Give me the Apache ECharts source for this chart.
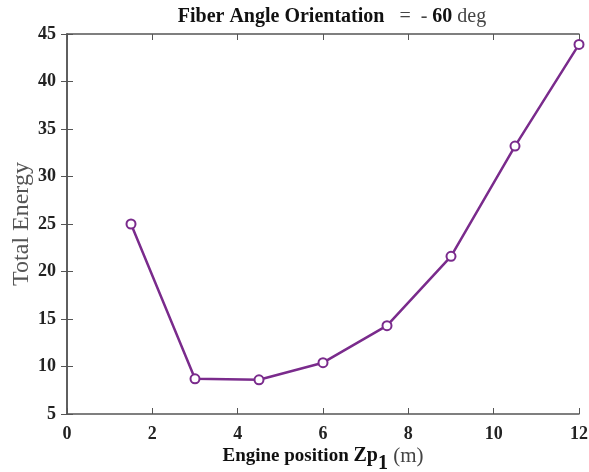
<!DOCTYPE html>
<html>
<head>
<meta charset="utf-8">
<script src="https://cdn.jsdelivr.net/npm/echarts@6/dist/echarts.min.js"></script>
<style>
  html, body { margin: 0; padding: 0; background: #fff; }
  #chart { width: 589px; height: 472px; }
</style>
</head>
<body>
<div id="chart"></div>
<script>
// data
const positions = [1.5, 3, 4.5, 6, 7.5, 9, 10.5, 12]
const energy = [25.0, 8.7, 8.6, 10.4, 14.3, 21.6, 33.2, 43.9]
const xTicks = [0, 2, 4, 6, 8, 10, 12]
const yTicks = [5, 10, 15, 20, 25, 30, 35, 40, 45]

const purple = '#7a2b8c'
const axisColor = '#555555'
const serif = '"Liberation Serif", "DejaVu Serif", serif'

const chart = echarts.init(document.getElementById('chart'))

const tickLabel = {
    fontFamily: serif,
    fontWeight: 'bold',
    fontSize: 18,
    color: '#222'
}

const option = {
    backgroundColor: '#fff',
    animation: false,
    title: {
        left: 327,
        top: 2,
        textAlign: 'center',
        text: '{b|Fiber Angle Orientation}{n|   =  - }{b|60}{n| deg}',
        textStyle: {
            rich: {
                b: { fontFamily: serif, fontWeight: 'bold', fontSize: 20, color: '#111' },
                n: { fontFamily: serif, fontWeight: 'normal', fontSize: 20, color: '#444' }
            }
        }
    },
    grid: {
        left: 67,
        right: 10,
        top: 34,
        bottom: 58,
        outerBoundsMode: 'none'
    },
    xAxis: [
        {
            type: 'value',
            min: 0,
            max: 12,
            interval: 2,
            axisLine: { lineStyle: { color: axisColor, width: 1.5 } },
            axisTick: { inside: true, length: 6, lineStyle: { color: axisColor } },
            axisLabel: Object.assign({ margin: 11 }, tickLabel),
            splitLine: { show: false },
            name: '{b|Engine position }{z|Zp}{s|1}{n| (m)}',
            nameLocation: 'middle',
            nameGap: 24,
            nameMoveOverlap: false,
            nameTextStyle: {
                rich: {
                    b: { fontFamily: serif, fontWeight: 'bold', fontSize: 19, color: '#111' },
                    z: { fontFamily: serif, fontWeight: 'bold', fontSize: 20, color: '#111' },
                    s: { fontFamily: serif, fontWeight: 'bold', fontSize: 20, color: '#111', padding: [16, 0, 0, 0] },
                    n: { fontFamily: serif, fontWeight: 'normal', fontSize: 21, color: '#444' }
                }
            }
        },
        {
            type: 'value',
            position: 'top',
            min: 0,
            max: 12,
            interval: 2,
            axisLine: { show: true, lineStyle: { color: axisColor, width: 1.5 } },
            axisTick: { inside: true, length: 6, lineStyle: { color: axisColor } },
            axisLabel: { show: false },
            splitLine: { show: false }
        }
    ],
    yAxis: [
        {
            type: 'value',
            min: 5,
            max: 45,
            interval: 5,
            axisLine: { show: true, lineStyle: { color: axisColor, width: 1.5 } },
            axisTick: { show: true, inside: true, length: 6, lineStyle: { color: axisColor } },
            axisLabel: Object.assign({ margin: 11 }, tickLabel),
            splitLine: { show: false },
            name: 'Total Energy',
            nameLocation: 'middle',
            nameGap: 33,
            nameMoveOverlap: false,
            nameTextStyle: { fontFamily: serif, fontSize: 24, color: '#555' }
        },
        {
            type: 'value',
            position: 'right',
            min: 5,
            max: 45,
            interval: 5,
            axisLine: { show: true, lineStyle: { color: axisColor, width: 1.5 } },
            axisTick: { show: true, inside: true, length: 6, lineStyle: { color: axisColor } },
            axisLabel: { show: false },
            splitLine: { show: false }
        }
    ],
    series: [
        {
            type: 'line',
            data: positions.map((x, i) => [x, energy[i]]),
            symbol: 'emptyCircle',
            symbolSize: 9,
            lineStyle: { color: purple, width: 2.5 },
            itemStyle: { color: purple, borderColor: purple, borderWidth: 2.2 }
        }
    ]
}

chart.setOption(option)
</script>
</body>
</html>
